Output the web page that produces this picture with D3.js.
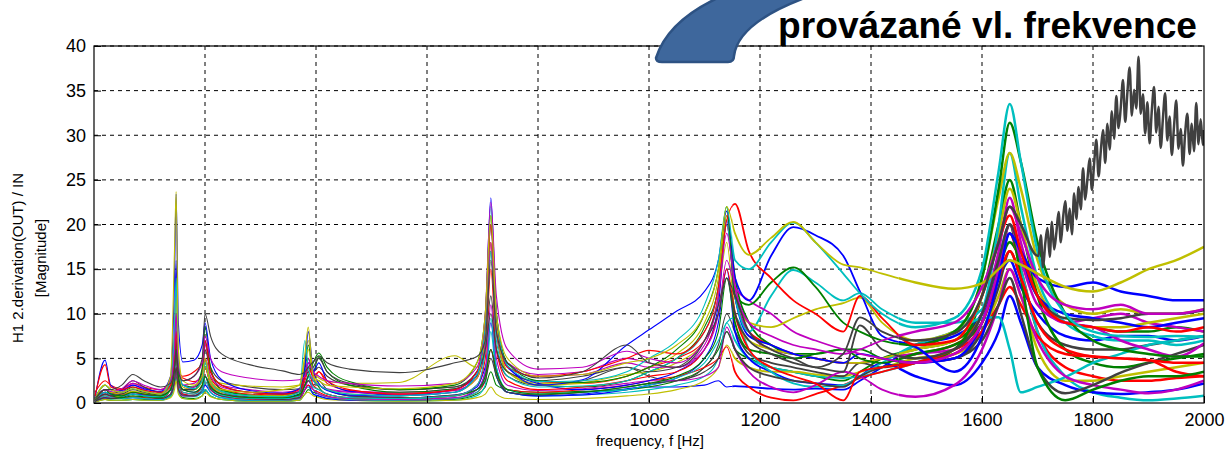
<!DOCTYPE html>
<html><head><meta charset="utf-8">
<script src="https://cdn.jsdelivr.net/npm/d3@7"></script>
<style>
body{margin:0;background:#fff;}
svg{display:block;font-family:Arial,"Liberation Sans",sans-serif;}
</style>
</head><body>
<svg id="chart" width="1227" height="452"></svg>
<script>
// ---------------- DATA ----------------
const freq = [2,20,30,50,70,90,120,138,145,148, 152,160,180,195,200,210,230,280,340,370, 380,386,395,405,420,460,550,650,690,705, 715,725,745,800,880,960,1000,1050,1100,1125, 1140,1155,1180,1220,1260,1300,1350,1380,1420,1480, 1550,1600,1630,1650,1670,1700,1750,1800,1850,1900, 1950,2000];

const xTicks = [200,400,600,800,1000,1200,1400,1600,1800,2000];
const yTicks = [0,5,10,15,20,25,30,35,40];

const blue1 = [0.6,4.8,2.0,1.4,2.0,1.6,1.3,3.0,14,23.4, 9,4.6,4.8,6.5,9.0,5.0,2.6,1.4,1.1,1.6, 4.0,8.0,3.6,2.2,1.4,0.9,0.8,1.2,3.2,9, 23,10,4.2,2.0,2.6,6.5,8.2,10.3,12.5,16, 21.5,14,11.5,16.5,19.7,18.8,16.5,12.5,7.5,6.3, 3.5,7.5,14,19,17,14,13,13.5,12.5,12, 11.5,11.5];
const green1 = [0.4,1.5,1.0,0.8,1.2,1.0,0.8,1.5,4,7, 3.0,1.5,1.2,2.0,3.0,1.8,1.0,0.6,0.6,0.9, 2.0,3.0,4.5,5.6,4.0,2.4,1.5,2.0,4.5,10, 21,10,4.5,2.5,2.3,3.0,4.0,6,10,15, 22,12,11,13.5,15.2,13,9,8,7,6.5, 8,14,24,31.4,27,18,10,7,6,5.5, 5.2,5.2];
const red1 = [0.8,4.3,1.8,1.5,1.8,1.4,1.2,2.0,5,8, 3.5,3.0,3.5,4.5,7.0,3.5,2.0,1.2,1.0,1.5, 3.0,4.0,3.0,3.5,2.5,1.5,1.0,1.5,3.5,9, 20,10,4.0,3.0,3.5,5.0,5.9,5.5,8,13, 20.5,22.3,17,14,11.5,10,8,12,9.5,6.5, 7,12,18,21,17,12,9,8.5,8,8.5, 8,8.5];
const cyan1 = [0.5,2.0,1.5,1.2,1.6,1.3,1.0,2.5,8,14, 5,2.0,1.6,2.5,4.5,2.5,1.3,0.8,0.7,1.2, 7,4.0,2.5,2.0,1.5,1.0,0.8,1.2,3.2,9, 22,10,4.2,2.4,2.5,3.5,5.0,7.0,11,16, 22,16,15,18,20.2,18,14.5,12.3,10,8.5, 9.5,15,26,33.5,27,17,10,8,7.5,7.4, 7.5,7.4];
const magenta1 = [0.6,1.5,1.3,1.6,2.5,2.0,1.5,2.5,6,10, 4,2.5,3.0,4.5,7.5,5.0,3.5,2.8,2.5,2.6, 3.0,4.5,3.5,3.0,2.5,2.2,1.9,2.2,4.0,10, 22.5,12,6,3.8,4.0,5.8,5.0,4.5,7,12, 19,13,9,7.5,6.5,6.0,5.5,6.0,7.0,8.0, 9,13,18,22,19,14,11,10.5,11,10, 10,10.5];
const yellow1 = [0.5,2.0,1.5,1.2,1.6,1.3,1.0,3.0,17,23.7, 6,2.5,2.0,3.0,5.0,2.5,1.5,1.2,1.5,2.0, 5.5,8.5,3.0,2.5,2.0,1.8,1.6,2.2,4.5,10, 21,10,5.0,3.0,3.2,4.5,5.0,6.5,10,15, 22,19,16.6,18.5,20.3,18,15.5,15.2,14.5,13.5, 12.8,13.4,15,16,15.5,14.5,13,12.5,13.5,15, 16,17.5];
const gray1 = [0.5,1.5,1.5,2.0,3.2,2.5,1.8,2.2,4,6, 3.5,2.5,3.0,5.0,10,7.5,5.5,4.3,3.6,3.2, 3.5,4.0,4.6,5.3,4.5,3.8,3.4,4.5,5.2,7, 16,8,4.5,2.8,3.5,6.5,4.5,4.0,7,11, 14,12,8,6,5,4,5.5,9.6,8,7, 7.8,12,18,22,20,16.5];
const gray1TailFreq = [1702,1706,1710,1714,1718,1722,1726,1730,1734,1738,1742,1746,1750,1754,1758,1762,1766,1770,1774,1778,1782,1786,1790,1794,1798,1802,1806,1810,1814,1818,1822,1826,1830,1834,1838,1842,1846,1850,1854,1858,1862,1866,1870,1874,1878,1882,1886,1890,1894,1898,1902,1906,1910,1914,1918,1922,1926,1930,1934,1938,1942,1946,1950,1954,1958,1962,1966,1970,1974,1978,1982,1986,1990,1994,1998,2000];
const gray1TailVals = [16.5,18.8,15.2,17.9,19.6,16.4,20.3,17.2,19.1,21.4,18.0,20.7,22.6,19.3,21.8,18.9,23.5,20.6,24.2,21.7,26.3,22.8,25.1,27.4,23.9,26.8,29.5,25.4,28.2,30.6,26.9,31.3,28.4,32.7,29.6,34.4,30.8,33.1,36.2,31.5,34.8,37.6,32.2,35.1,33.0,38.8,32.4,34.6,30.2,33.7,29.1,32.8,35.4,30.3,33.2,28.6,31.9,34.7,29.4,32.1,27.8,31.0,33.9,28.5,30.7,26.6,30.2,32.4,27.9,31.3,28.2,33.6,29.0,31.8,28.9,30.6];

const blue2 = [0.3,1.2,1.0,0.8,1.0,0.9,0.8,1.5,5,9, 4,2.0,1.6,2.5,4.0,2.2,1.2,0.7,0.6,1.0, 3.0,4.5,3.5,4.5,2.5,1.3,0.9,1.5,3.5,8, 20,9.5,4.0,2.2,1.5,2.0,2.5,3.5,6,11, 20.5,12,7.5,6.5,5.5,5.0,4.5,5.5,5.0,4.5, 5.0,9,15,19,16,12,10,9.5,9.0,8.5, 9.0,9.5];
const green2 = [0.2,1.0,0.8,0.6,0.8,0.7,0.6,1.5,4,6, 2.5,1.5,1.5,4.0,8.5,4.0,1.5,0.8,0.5,1.0, 3.5,6.5,3.0,1.8,1.0,0.6,0.5,0.8,1.5,3, 6,3.5,1.5,1.0,1.2,1.8,2.2,3.0,5,8, 14,9,6,5.5,5.0,5.5,6,5,4.5,5.5, 6.5,9,15,20,14,4,0.3,1.5,2.5,3.0, 3.0,3.5];
const red2 = [0.3,1.5,1.2,1.0,1.2,1.0,0.8,1.5,4,6, 2.5,1.2,1.0,2.0,4.0,2.0,1.0,0.6,0.5,0.8, 2.5,3.5,2.0,1.5,1.0,0.6,0.5,0.8,2.0,5, 15,6,2.5,1.5,1.8,2.5,3.0,3.5,6,10, 15,10,6,4,3.0,2.2,0.3,3.5,4.0,4.5, 5.5,9,14,17,14,9,6,5.2,5.0,4.8, 4.5,4.5];
const cyan2 = [0.3,1.2,1.0,0.8,1.0,0.8,0.7,1.5,5,9, 3,1.2,1.0,1.5,3.0,1.8,0.9,0.5,0.5,0.8, 4,3.0,1.8,1.5,1.0,0.6,0.5,0.8,2.0,6, 17,7,3.0,1.8,1.9,2.5,3.5,5.0,8,13, 20,12,8,12,14.9,13.5,11.5,12.3,10.5,9, 9,10.5,20,28,22,14,9,7.5,7,7, 6.5,7];
const magenta2 = [0.3,1.0,0.8,1.2,2.0,1.5,1.0,1.8,4,7, 2.5,1.5,1.8,3.0,5.0,3.0,1.8,1.2,1.0,1.3, 3.0,5.0,2.5,2.0,1.5,1.2,1.0,1.4,2.8,7, 18,8,4.0,3.0,3.2,4.5,4.0,4.0,6,10, 16,13,11.5,10,8,7,6,5.5,5.0,4.5, 5.5,9,15,20,16,11,9,8.5,7,6, 5.2,6.7];
const yellow2 = [0.4,1.5,1.2,1.0,1.3,1.1,0.9,2.0,8,12, 4,1.8,1.5,2.5,4.0,2.2,1.2,0.8,0.8,1.2, 4.5,6,3.0,2.0,1.5,1.0,0.8,1.2,2.8,8, 20,9,3.5,2.0,2.2,3.0,4.0,5.5,9,14, 21,13,9,8.5,9.5,10.5,11.2,11.8,9,7, 8,14,23,28,24,16,11,10,10.5,10, 10,10.5];
const gray2 = [0.3,1.0,0.8,1.0,1.5,1.2,0.9,1.5,4,6, 2.5,1.5,1.5,3.0,6,3.5,2.0,1.2,1.0,1.2, 3.0,3.5,4.0,5.0,3.5,2.2,1.5,1.8,3.5,6, 10,6,3.5,2.5,3.0,4.0,3.5,4.0,7,10, 14,10,7,5.5,4.5,4.0,3.5,8.7,6,5, 6,10,16,20,17,12,9.5,9.3,9.5,10, 10,10.4];

const blue3 = [0.2,0.6,0.5,0.5,0.6,0.5,0.4,1.0,7,16, 3,1.0,0.8,1.2,2.0,1.2,0.6,0.3,0.3,0.5, 1.5,2.0,1.0,0.8,0.5,0.3,0.3,0.5,1.5,3.5, 9,4,1.2,0.8,0.9,1.5,2.0,2.8,5,9, 15,8,5,3.5,2.5,2.2,2.0,3.0,4.5,3.0, 2.0,4.5,8,12,9,4,2.0,1.2,1.0,1.2, 1.5,2.2];
const green3 = [0.6,2.0,1.5,1.2,1.8,1.4,1.0,2.5,6,10, 4,2.0,1.8,2.5,4.5,2.5,1.4,0.9,0.8,1.3, 4.5,5.0,3.5,5.2,3.5,2.0,1.2,1.6,3.5,7.5, 17,8,3.5,2.0,1.8,2.5,3.5,5.0,8.5,13, 21,14,9,6.5,5.5,5.5,6.0,6.0,5.0,4.5, 6,12,20,25,20,12,6,4.5,4.0,4.5, 5.0,5.5];
const red3 = [0.2,0.8,0.6,0.5,0.7,0.6,0.5,1.0,2.5,4, 1.8,1.0,0.8,1.5,3.0,1.5,0.8,0.4,0.3,0.5, 1.5,2.0,1.5,1.2,0.8,0.4,0.3,0.5,1.2,2.5, 6,3.5,1.5,1.2,1.5,2.0,2.5,3.0,4.0,5.0, 6.3,3.5,1.8,0.6,0.3,1.0,2.0,2.8,3.5,4.5, 6.0,8,11,13,11,7.5,5.5,5.2,5.0,4.8, 3.5,3.0];
const cyan3 = [0.2,0.8,0.6,0.5,0.6,0.5,0.4,1.0,3,5, 2.0,0.8,0.7,1.2,2.5,1.2,0.6,0.3,0.3,0.5, 2.0,2.5,1.5,1.0,0.7,0.4,0.3,0.5,1.2,3.0, 9.5,4,1.5,1.0,1.2,1.5,2.0,2.8,4.5,7, 9.0,9.6,6,3.5,2.2,1.8,2.0,3.0,4.5,6.5, 8,9.5,9.6,6,1.2,1.8,2.9,4.5,5.5,6.5, 7,7.5];
const magenta3 = [0.2,0.6,0.5,0.8,1.2,0.9,0.6,1.0,2.5,4, 1.5,0.8,0.8,1.5,3.0,1.5,0.8,0.5,0.4,0.6, 1.5,2.5,1.5,1.0,0.7,0.5,0.4,0.6,1.5,3.5, 11,5,2.0,1.4,1.6,2.2,2.5,2.5,3.0,4, 8.5,6,3.5,1.8,1.2,2.0,3.5,3.0,1.5,0.7, 2.0,6,11,15,12,7,3.0,2.0,1.5,1.1, 1.5,2.5];
const yellow3 = [0.3,1.0,0.8,0.7,1.0,0.8,0.6,1.5,5,8, 3,1.5,1.5,2.5,4.5,3.0,2.2,1.9,1.8,2.0, 5,7,3.5,2.8,2.4,2.2,2.3,5.3,4.0,9, 18,8,3.5,2.2,2.3,3.2,3.5,4.5,7,12, 18,10,7,6,5.5,5.0,4.5,4.5,5.0,6, 7,12,19,24,20,13,9,8.5,8.5,9, 9.5,10];
const gray3 = [0.2,0.6,0.5,0.6,1.0,0.8,0.5,1.0,2.5,4, 1.5,0.9,0.8,1.5,3.0,1.6,0.8,0.5,0.4,0.6, 2.0,2.5,2.0,2.5,1.5,0.8,0.6,0.9,1.5,2.5, 5,3,1.2,0.9,1.2,1.8,2.2,2.5,3.5,5, 8,6,4,3.0,2.5,2.2,1.8,3.0,4.0,4.5, 5,7,11,14,10,4,1.1,2.0,3.4,4.5, 5.5,6.5];

const blue4 = [0.5,1.5,1.2,1.0,1.2,1.0,0.9,2.0,5,6, 3,1.5,1.2,1.8,3.0,1.8,1.0,0.6,0.5,0.8, 2.0,3.0,2.5,2.0,1.5,0.8,0.6,0.9,1.8,4, 6,3,1.2,0.8,1.0,1.6,1.8,1.8,2.0,2.5, 1.8,1.9,1.8,1.6,1.5,1.6,1.5,2.5,4.0,6.5, 7.5,10,14,16,13,10,7.5,7,7.5,7.5, 7.0,7.5];
const green4 = [0.1,0.4,0.3,0.3,0.4,0.4,0.3,0.8,2,3, 1.5,0.6,0.5,0.8,1.5,0.8,0.4,0.2,0.2,0.3, 1.0,1.5,1.2,1.0,0.7,0.4,0.3,0.4,1.0,1.8, 3.5,2.0,1.5,1.2,1.3,1.5,1.8,2.5,4,6, 8,6,5,4.0,3.5,3.0,2.5,3.5,5.0,6.0, 7.0,10,15,18,16,12,9,8.5,8,8, 8.5,8.0];
const red4 = [1.2,2.5,2.0,1.6,2.2,1.8,1.5,2.5,5,7, 3.0,2.8,2.4,3.0,5.0,2.8,1.6,1.0,0.9,1.2, 2.0,2.5,2.5,3.5,2.2,1.4,1.1,1.4,2.8,7, 18,8,3.5,2.4,2.2,3.0,4.0,5.0,7.0,12, 20,12,8,6.5,5.5,5.0,4.5,4.5,5.0,5.5, 6.5,10,16,19,15,8,4,3.0,2.5,2.5, 2.8,3.0];
const cyan4 = [0.1,0.5,0.4,0.3,0.4,0.3,0.3,0.7,2,3.5, 1.2,0.5,0.4,0.8,1.5,0.8,0.4,0.2,0.2,0.3, 1.5,1.8,1.0,0.7,0.5,0.3,0.2,0.3,0.8,2.0, 8,3,1.2,0.8,0.9,1.2,1.5,2.0,3.0,5.0, 9,7,5,4,3.5,3.0,2.8,3.0,3.5,4.5, 6,10,16,20,15,8,3.0,1.2,0.6,0.3, 0.5,0.8];
const magenta4 = [0.4,1.2,1.0,1.4,2.2,1.7,1.2,2.0,5,8, 3.0,2.0,2.2,3.5,6.5,3.5,2.0,1.5,1.2,1.5, 4.0,3.5,2.5,2.0,1.6,1.3,1.2,1.6,3.0,8, 20,9,4.5,3.2,3.5,5.0,4.5,4.0,6.5,12, 20,12,8,6.0,5.5,5.0,4.5,4.5,5.0,5.5, 6.0,10,17,23,18,12,9,9.5,10,9, 8.5,8];
const yellow4 = [0.1,0.4,0.3,0.3,0.4,0.3,0.3,0.6,1.5,2.5, 1.0,0.5,0.4,0.8,1.2,0.7,0.4,0.2,0.2,0.3, 1.0,1.2,0.8,0.6,0.4,0.3,0.2,0.3,0.6,1.0, 1.8,1.0,0.5,0.4,0.5,0.8,1.0,1.5,2.5,4, 6.5,5,4,3.5,3.5,3.2,3.0,3.5,4.0,5.0, 5.5,8,12,15,12,6,2.5,2.5,3.0,3.5, 4.0,4.5];
const gray4 = [0.4,1.2,1.0,1.5,2.5,1.8,1.2,1.8,3.5,5, 2.0,1.5,1.8,3.5,7,4.0,2.5,1.8,1.5,1.6, 3.0,4.0,3.5,4.0,3.0,2.0,1.5,1.8,3.0,6, 12,6,3.0,2.0,2.5,4.0,3.0,2.5,4.0,6.5, 10,8,5.5,4.5,4.0,3.5,3.0,4.5,4.0,4.5, 5.0,8,13,17,14,9,6.5,6.0,6.0,6.5, 7.0,7.5];

const colorBlue = "#0000ff", colorGreen = "#008000", colorRed = "#ff0000",
      colorCyan = "#00bfbf", colorMagenta = "#bf00bf", colorYellow = "#bfbf00", colorGray = "#404040";

// ---------------- BUILD ----------------
const pairs = (vals) => vals.map((v, i) => [freq[i], v]);
const gray1Pts = pairs(gray1).concat(gray1TailFreq.map((f, i) => [f, gray1TailVals[i]]));

const series = [
  {c: colorBlue, p: pairs(blue4)}, {c: colorGreen, p: pairs(green4)}, {c: colorRed, p: pairs(red4)},
  {c: colorCyan, p: pairs(cyan4)}, {c: colorMagenta, p: pairs(magenta4)}, {c: colorYellow, p: pairs(yellow4)},
  {c: colorGray, p: pairs(gray4)},
  {c: colorBlue, p: pairs(blue3)}, {c: colorGreen, p: pairs(green3)}, {c: colorRed, p: pairs(red3)},
  {c: colorCyan, p: pairs(cyan3)}, {c: colorMagenta, p: pairs(magenta3)}, {c: colorYellow, p: pairs(yellow3)},
  {c: colorGray, p: pairs(gray3)},
  {c: colorBlue, p: pairs(blue2)}, {c: colorGreen, p: pairs(green2)}, {c: colorRed, p: pairs(red2)},
  {c: colorCyan, p: pairs(cyan2)}, {c: colorMagenta, p: pairs(magenta2)}, {c: colorYellow, p: pairs(yellow2)},
  {c: colorGray, p: pairs(gray2)},
  {c: colorBlue, p: pairs(blue1)}, {c: colorGreen, p: pairs(green1)}, {c: colorRed, p: pairs(red1)},
  {c: colorCyan, p: pairs(cyan1)}, {c: colorMagenta, p: pairs(magenta1)}, {c: colorYellow, p: pairs(yellow1)},
  {c: colorGray, p: gray1Pts}
];

const svg = d3.select("#chart");
const L = 94, R = 1204, T = 46, B = 403;
const x = d3.scaleLinear().domain([0, 2000]).range([L, R]);
const y = d3.scaleLinear().domain([0, 40]).range([B, T]);

// frequency zones with increasing stroke width (noisier, denser traces at high f)
const zones = [
  {from: 0, to: 1150, w: 1.1},
  {from: 1150, to: 1450, w: 1.8},
  {from: 1450, to: 2000, w: 2.5}
];
const defs = svg.append("defs");
zones.forEach((z, i) => {
  defs.append("clipPath").attr("id", "clip" + i)
    .append("rect").attr("x", x(z.from)).attr("y", T).attr("width", x(z.to) - x(z.from)).attr("height", B - T);
});

// grid
const grid = svg.append("g");
grid.selectAll("line.vx").data(xTicks.filter(d => d < 2000)).join("line")
  .attr("x1", d => x(d)).attr("x2", d => x(d)).attr("y1", T).attr("y2", B)
  .attr("stroke", "#000").attr("stroke-width", 1).attr("stroke-dasharray", "4,4");
grid.selectAll("line.hy").data(yTicks.filter(d => d > 0)).join("line")
  .attr("x1", L).attr("x2", R).attr("y1", d => y(d)).attr("y2", d => y(d))
  .attr("stroke", "#000").attr("stroke-width", 1).attr("stroke-dasharray", "4,4");

// lines
const line = d3.line().x(d => x(d[0])).y(d => y(d[1])).curve(d3.curveMonotoneX);
zones.forEach((z, i) => {
  svg.append("g").attr("clip-path", `url(#clip${i})`)
    .selectAll("path").data(series).join("path")
    .attr("d", d => line(d.p)).attr("fill", "none")
    .attr("stroke", d => d.c).attr("stroke-width", z.w).attr("stroke-linejoin", "round");
});

// frame
svg.append("rect").attr("x", L).attr("y", T).attr("width", R - L).attr("height", B - T)
  .attr("fill", "none").attr("stroke", "#000").attr("stroke-width", 1.2);

// axes
const fmt = d3.format("d");
const xAxis = d3.axisBottom(x).tickValues(xTicks).tickFormat(fmt).tickSizeInner(-7).tickSizeOuter(0).tickPadding(10);
const gx = svg.append("g").attr("transform", `translate(0,${B})`).call(xAxis);
gx.select(".domain").remove();
gx.selectAll("text").attr("font-size", 18).attr("fill", "#000").attr("font-family", "Arial, 'Liberation Sans', sans-serif");
gx.selectAll("line").attr("stroke", "#000");

const yAxis = d3.axisLeft(y).tickValues(yTicks).tickFormat(fmt).tickSizeInner(-7).tickSizeOuter(0).tickPadding(8);
const gy = svg.append("g").attr("transform", `translate(${L},0)`).call(yAxis);
gy.select(".domain").remove();
gy.selectAll("text").attr("font-size", 18).attr("fill", "#000").attr("font-family", "Arial, 'Liberation Sans', sans-serif");
gy.selectAll("line").attr("stroke", "#000");

// titles
svg.append("text").attr("x", 650).attr("y", 446).attr("text-anchor", "middle")
  .attr("font-size", 15).attr("fill", "#000").text("frequency, f [Hz]");
svg.append("text").attr("transform", "translate(18,258) rotate(-90)").attr("dy", "0.35em")
  .attr("text-anchor", "middle").attr("font-size", 15).attr("fill", "#000")
  .text("H1 2.derivation(OUT) / IN");
svg.append("text").attr("transform", "translate(41,258) rotate(-90)").attr("dy", "0.35em")
  .attr("text-anchor", "middle").attr("font-size", 15).attr("fill", "#000")
  .text("[Magnitude]");

// annotation shape
svg.append("path")
  .attr("d", "M656,58 Q656,62 662,62 L728,62 Q734,62 734,56 Q738,22 810,-4 L722,-4 Q668,20 656,58 Z")
  .attr("fill", "#3e679c").attr("stroke", "#2d5283").attr("stroke-width", 2.5);

const title = svg.append("text").attr("x", 1197).attr("y", 38).attr("text-anchor", "end")
  .attr("font-size", 29).attr("font-weight", "bold").attr("fill", "#000")
  .text("provázané vl. frekvence");
const tw = title.node().getComputedTextLength();
if (tw > 0) title.attr("font-size", 29 * 419 / tw);
</script>
</body></html>
